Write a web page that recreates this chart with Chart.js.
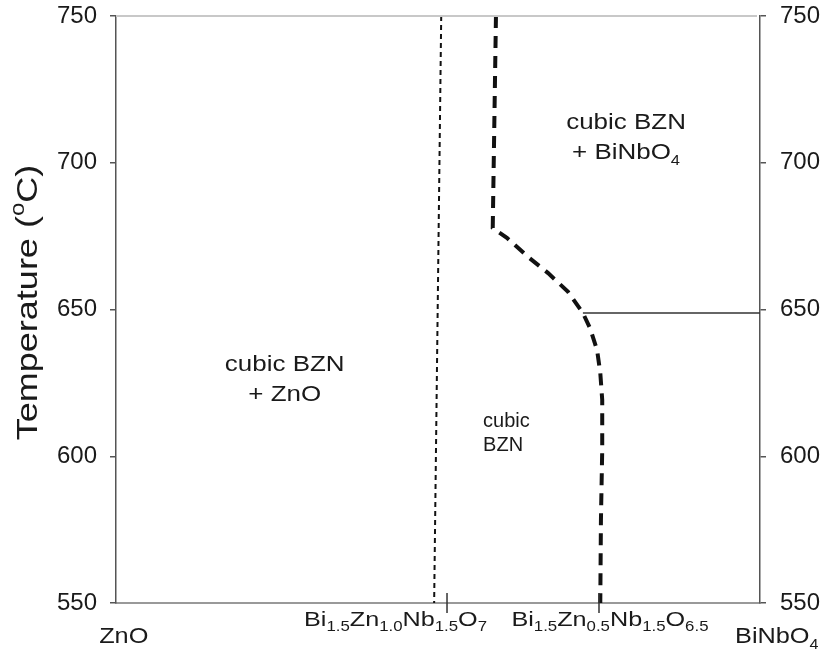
<!DOCTYPE html>
<html>
<head>
<meta charset="utf-8">
<script src="https://cdn.jsdelivr.net/npm/chart.js@4.4.1/dist/chart.umd.min.js"></script>
<style>
  html, body { margin: 0; padding: 0; background: #fff; }
  canvas { display: block; }
</style>
</head>
<body>
<canvas id="phase" width="825" height="649"></canvas>
<script>
// Temperature axis (°C), shown on both sides
const temperatureTicks = [550, 600, 650, 700, 750];

// Composition axis runs from ZnO (0) to BiNbO4 (100)
const compositionNames = ['ZnO', 'Bi_{1.5}Zn_{1.0}Nb_{1.5}O_{7}', 'Bi_{1.5}Zn_{0.5}Nb_{1.5}O_{6.5}', 'BiNbO_{4}'];
const compositionLabelX = [1.2, 43.4, 76.7, 102.6];
const compositionTickX = [51.4, 75.0];

// ZnO-side solubility limit of cubic BZN
const zincLimitX = [50.5, 49.4];
const zincLimitT = [750, 550];

// BiNbO4-side solubility limit of cubic BZN
const bismuthLimitX = [59.0, 58.5, 60.7, 64.0, 67.1, 70.2, 72.5, 73.6, 74.7, 75.2, 75.5, 75.5, 75.3, 75.2];
const bismuthLimitT = [750, 677.8, 674.4, 667.9, 662.4, 656.0, 648.8, 643.7, 636.2, 628.4, 619.2, 602.1, 578.3, 550];

// Isotherm at the BiNbO4 side
const isothermX = [72.5, 100];
const isothermT = [648.8, 648.8];

// Phase-field labels (anchor in composition / temperature units)
const regionLabels = [
  { lines: ['cubic BZN', '+ ZnO'], x: 26.2, t: 629.0, kind: 'large' },
  { lines: ['cubic BZN', '+ BiNbO_{4}'], x: 79.2, t: 711.5, kind: 'large' },
  { lines: ['cubic', 'BZN'], x: 57.0, t: 610.0, kind: 'small' }
];

const FONT = '"Liberation Sans", Arial, Helvetica, sans-serif';
const INK = '#1a1a1a';

function toPoints(xs, ts) {
  return xs.map((x, i) => ({ x: x, y: ts[i] }));
}

// Draws text with _{sub} and ^{sup} runs
function drawRich(ctx, src, x, y, o) {
  const parts = [];
  const re = /([_^])\{([^}]*)\}/g;
  let last = 0, m;
  while ((m = re.exec(src))) {
    if (m.index > last) parts.push({ t: src.slice(last, m.index), k: '' });
    parts.push({ t: m[2], k: m[1] });
    last = re.lastIndex;
  }
  if (last < src.length) parts.push({ t: src.slice(last), k: '' });
  const fontFor = p => `${p.k ? o.small : o.size}px ${FONT}`;
  let w = 0;
  parts.forEach(p => { ctx.font = fontFor(p); p.w = ctx.measureText(p.t).width; w += p.w; });
  const s = o.stretch || 1;
  let x0 = o.align === 'center' ? -w / 2 : (o.align === 'right' ? -w : 0);
  ctx.save();
  ctx.translate(x, y);
  if (o.rotate) ctx.rotate(o.rotate);
  ctx.scale(s, 1);
  ctx.fillStyle = o.color || INK;
  ctx.textAlign = 'left';
  ctx.textBaseline = 'alphabetic';
  parts.forEach(p => {
    ctx.font = fontFor(p);
    const dy = p.k === '_' ? o.size * 0.26 : (p.k === '^' ? -o.size * 0.42 : 0);
    ctx.fillText(p.t, x0, dy);
    x0 += p.w;
  });
  ctx.restore();
}

const decorations = {
  id: 'decorations',
  afterDraw(chart) {
    const { ctx, chartArea: a, scales } = chart;
    const xs = scales.x, ys = scales.y;

    // light frame line along the top
    ctx.save();
    ctx.strokeStyle = '#c8c8c8';
    ctx.lineWidth = 2;
    ctx.beginPath();
    ctx.moveTo(a.left, a.top);
    ctx.lineTo(a.right - 3, a.top);
    ctx.stroke();

    // composition tick marks crossing the bottom axis
    ctx.strokeStyle = '#333';
    ctx.lineWidth = 1.5;
    compositionTickX.forEach(v => {
      const px = xs.getPixelForValue(v);
      ctx.beginPath();
      ctx.moveTo(px, a.bottom - 10);
      ctx.lineTo(px, a.bottom + 10);
      ctx.stroke();
    });
    ctx.restore();

    // composition labels
    compositionNames.forEach((name, i) => {
      const px = xs.getPixelForValue(compositionLabelX[i]);
      const end = i === 0 || i === compositionNames.length - 1;
      drawRich(ctx, name, px, a.bottom + (end ? 40 : 23), {
        size: end ? 22 : 21, small: 14, align: 'center', stretch: end ? 1.15 : 1.2
      });
    });

    // axis title
    drawRich(ctx, 'Temperature (^{o}C)', 37, (a.top + a.bottom) / 2 - 7, {
      size: 30, small: 20, align: 'center', stretch: 1.2, rotate: -Math.PI / 2
    });

    // phase-field labels
    regionLabels.forEach(lb => {
      const px = xs.getPixelForValue(lb.x);
      const py = ys.getPixelForValue(lb.t);
      const large = lb.kind === 'large';
      lb.lines.forEach((line, j) => {
        drawRich(ctx, line, px, py + j * (large ? 30 : 24), {
          size: large ? 22 : 20, small: 14,
          align: large ? 'center' : 'left', stretch: large ? 1.18 : 1
        });
      });
    });
  }
};

const tempAxis = (position, width, padding) => ({
  type: 'linear',
  position: position,
  min: temperatureTicks[0],
  max: temperatureTicks[temperatureTicks.length - 1],
  afterBuildTicks: s => { s.ticks = temperatureTicks.map(v => ({ value: v })); },
  afterFit: s => {
    s.width = width;
    s.paddingTop = 0;
    s.paddingBottom = 0;
  },
  ticks: {
    color: INK,
    padding: padding,
    font: { family: FONT, size: 24 },
    callback: v => String(v)
  },
  grid: { drawOnChartArea: false, drawTicks: true, tickLength: 6, color: '#555', lineWidth: 1.5 },
  border: { display: true, color: '#555', width: 1.5 }
});

new Chart(document.getElementById('phase'), {
  type: 'scatter',
  data: {
    datasets: [
      {
        data: toPoints(zincLimitX, zincLimitT),
        showLine: true, pointRadius: 0,
        borderColor: '#111', borderWidth: 2, borderDash: [5, 4],
        yAxisID: 'y'
      },
      {
        data: toPoints(bismuthLimitX, bismuthLimitT),
        showLine: true, pointRadius: 0,
        borderColor: '#111', borderWidth: 4, borderDash: [12, 8],
        yAxisID: 'y'
      },
      {
        data: toPoints(isothermX, isothermT),
        showLine: true, pointRadius: 0,
        borderColor: '#333', borderWidth: 1.5,
        yAxisID: 'y'
      }
    ]
  },
  options: {
    responsive: false,
    animation: false,
    devicePixelRatio: 1,
    layout: { padding: { top: 16, left: 0, right: 0, bottom: 0 } },
    plugins: { legend: { display: false }, tooltip: { enabled: false } },
    scales: {
      x: {
        type: 'linear',
        min: 0,
        max: 100,
        afterFit: s => { s.height = 46; s.paddingLeft = 0; s.paddingRight = 0; },
        ticks: { display: false },
        grid: { display: false, drawTicks: false },
        border: { display: true, color: '#999', width: 2 }
      },
      y: tempAxis('left', 116, 13),
      y2: tempAxis('right', 65, 14)
    }
  },
  plugins: [decorations]
});
</script>
</body>
</html>
